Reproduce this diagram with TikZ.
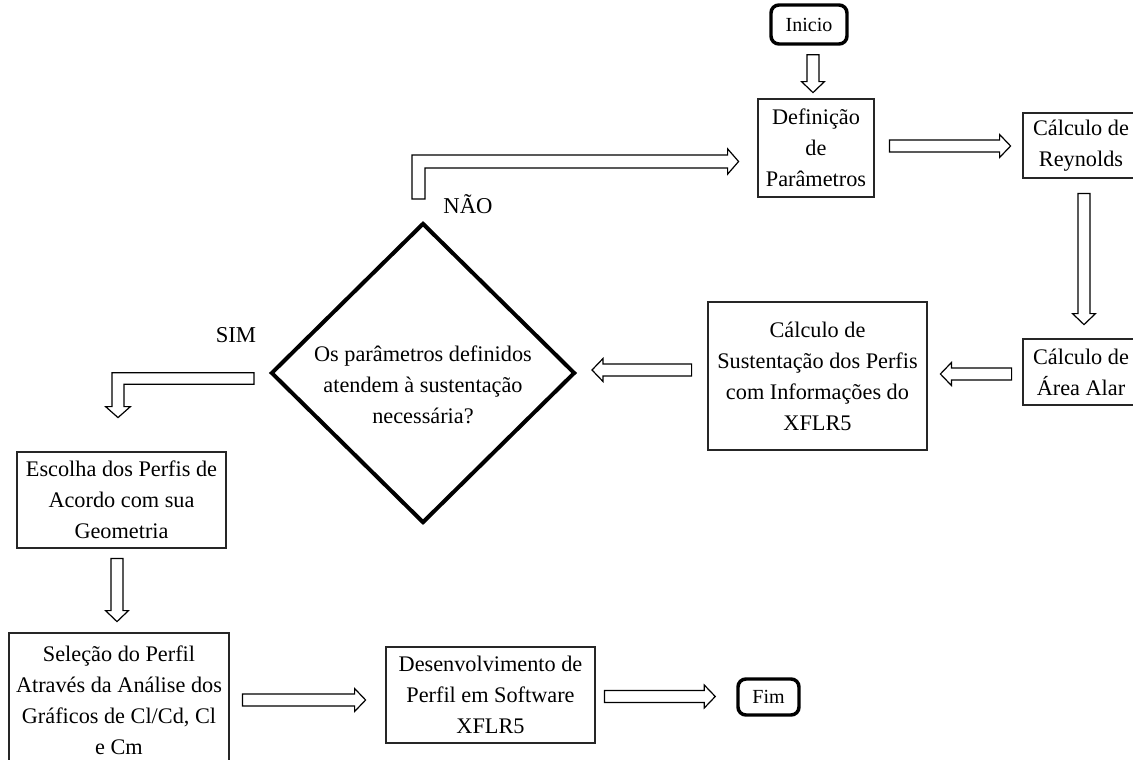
\documentclass[tikz,border=0pt]{standalone}
\usepackage{fontspec}
\setmainfont{Liberation Serif}
\usetikzlibrary{calc,shapes.geometric}
\tikzset{
  procbox/.style={draw=black!85, line width=2.1pt, fill=white, align=center, inner sep=0pt,
    font=\fontsize{16.7}{23.25}\selectfont},
  termbox/.style={draw=black, line width=2.6pt, rounded corners=6pt, align=center, inner sep=0pt,
    font=\fontsize{15}{18}\selectfont},
  decbox/.style={draw=black, line width=3pt, diamond, aspect=1, inner sep=0pt},
  dectext/.style={align=center, inner sep=0pt, font=\fontsize{16.7}{23.25}\selectfont},
  answer/.style={inner sep=0pt, font=\fontsize{17}{20}\selectfont},
  blockarrow/.style={draw=black, line width=0.9pt, fill=white, line join=miter},
}
% straight hollow block arrow from #1 to tip #2
\newcommand\blockarr[2]{%
  \draw[blockarrow] let \p1=#1, \p2=#2,
    \n1={veclen(\x2-\x1,\y2-\y1)}, \n2={(\x2-\x1)/\n1}, \n3={(\y2-\y1)/\n1} in
    ({\x1-\n3*4.5pt},{\y1+\n2*4.5pt})
    -- ({\x2-\n2*8.25pt-\n3*4.5pt},{\y2-\n3*8.25pt+\n2*4.5pt})
    -- ({\x2-\n2*8.25pt-\n3*8.6pt},{\y2-\n3*8.25pt+\n2*8.6pt})
    -- (\p2)
    -- ({\x2-\n2*8.25pt+\n3*8.6pt},{\y2-\n3*8.25pt-\n2*8.6pt})
    -- ({\x2-\n2*8.25pt+\n3*4.5pt},{\y2-\n3*8.25pt-\n2*4.5pt})
    -- ({\x1+\n3*4.5pt},{\y1-\n2*4.5pt}) -- cycle;}
\begin{document}
\begin{tikzpicture}[x=0.75pt,y=-0.75pt]
\clip (0,0) rectangle (1133,760);
\fill[white] (0,0) rectangle (1133,760);

% nodes
\node[termbox, minimum width=57pt, minimum height=29.25pt] (ini) at (809,24.5) {Inicio};
\node[procbox, minimum width=87pt, minimum height=73.5pt] (def) at (816,148) {Definição\\de\\Parâmetros};
\node[procbox, minimum width=87pt, minimum height=48.75pt] (rey) at (1081,145.5) {Cálculo de\\Reynolds};
\node[procbox, minimum width=87pt, minimum height=49.5pt] (area) at (1081,372) {Cálculo de\\Área Alar};
\node[procbox, minimum width=164.25pt, minimum height=111pt] (sus) at (817.5,376) {Cálculo de\\Sustentação dos Perfis\\com Informações do\\XFLR5};
\node[decbox, minimum width=228pt, minimum height=225pt] (dec) at (423,373) {};
\node[dectext] (dect) at ($(dec.center)+(0,12)$) {Os parâmetros definidos\\atendem à sustentação\\necessária?};
\node[procbox, minimum width=156.75pt, minimum height=72pt] (esc) at (121.5,500) {Escolha dos Perfis de\\Acordo com sua\\Geometria};
\node[procbox, minimum width=165pt, minimum height=100.5pt] (sel) at (119,700) {Seleção do Perfil\\Através da Análise dos\\Gráficos de Cl/Cd, Cl\\e Cm};
\node[procbox, minimum width=156.75pt, minimum height=72pt] (des) at (490.5,695) {Desenvolvimento de\\Perfil em Software\\XFLR5};
\node[termbox, minimum width=45.75pt, minimum height=27pt] (fim) at (768.5,697) {Fim};

\node[answer] (nao) at (468,204) {NÃO};
\node[answer] (sim) at (236,335) {SIM};

% straight arrows
\blockarr{($(ini.south)+(4,9)$)}{($(def.north)+(-3,-5)$)}
\blockarr{($(def.east)+(14,-2)$)}{($(rey.west)+(-11,0.5)$)}
\blockarr{($(rey.south)+(3,14)$)}{($(area.north)+(3,-13)$)}
\blockarr{($(area.west)+(-10,2)$)}{($(sus.east)+(12,-2)$)}
\blockarr{($(sus.west)+(-15,-6)$)}{($(dec.east)+(15,-3)$)}
\blockarr{($(esc.south)+(-4.5,9)$)}{($(sel.north)+(-2,-10)$)}
\blockarr{($(sel.east)+(12,0)$)}{($(des.west)+(-19,5)$)}
\blockarr{($(des.east)+(8,1.5)$)}{($(fim.west)+(-21,-0.5)$)}

% NAO arrow (up, then right)
\coordinate (naoS) at ($(dec.north)+(-4.5,-22)$);
\coordinate (naoE) at ($(def.west)+(-18,13.5)$);
\draw[blockarrow] let \p1=(naoS), \p2=(naoE) in
  ({\x1-4.875pt},{\y1}) -- ({\x1-4.875pt},{\y2+4.875pt}) -- ({\x2-8.25pt},{\y2+4.875pt})
  -- ({\x2-8.25pt},{\y2+9.5pt}) -- (\p2) -- ({\x2-8.25pt},{\y2-9.5pt})
  -- ({\x2-8.25pt},{\y2-4.875pt}) -- ({\x1+4.875pt},{\y2-4.875pt}) -- ({\x1+4.875pt},{\y1}) -- cycle;

% SIM arrow (left, then down)
\coordinate (simS) at ($(dec.west)+(-15,5.5)$);
\coordinate (simE) at ($(esc.north)+(-3.5,-33)$);
\draw[blockarrow] let \p1=(simS), \p2=(simE) in
  ({\x1},{\y1+4.3pt}) -- ({\x2-4.5pt},{\y1+4.3pt}) -- ({\x2-4.5pt},{\y2+8.25pt})
  -- ({\x2-9.3pt},{\y2+8.25pt}) -- (\p2) -- ({\x2+9.3pt},{\y2+8.25pt})
  -- ({\x2+4.5pt},{\y2+8.25pt}) -- ({\x2+4.5pt},{\y1-4.3pt}) -- ({\x1},{\y1-4.3pt}) -- cycle;
\end{tikzpicture}
\end{document}
